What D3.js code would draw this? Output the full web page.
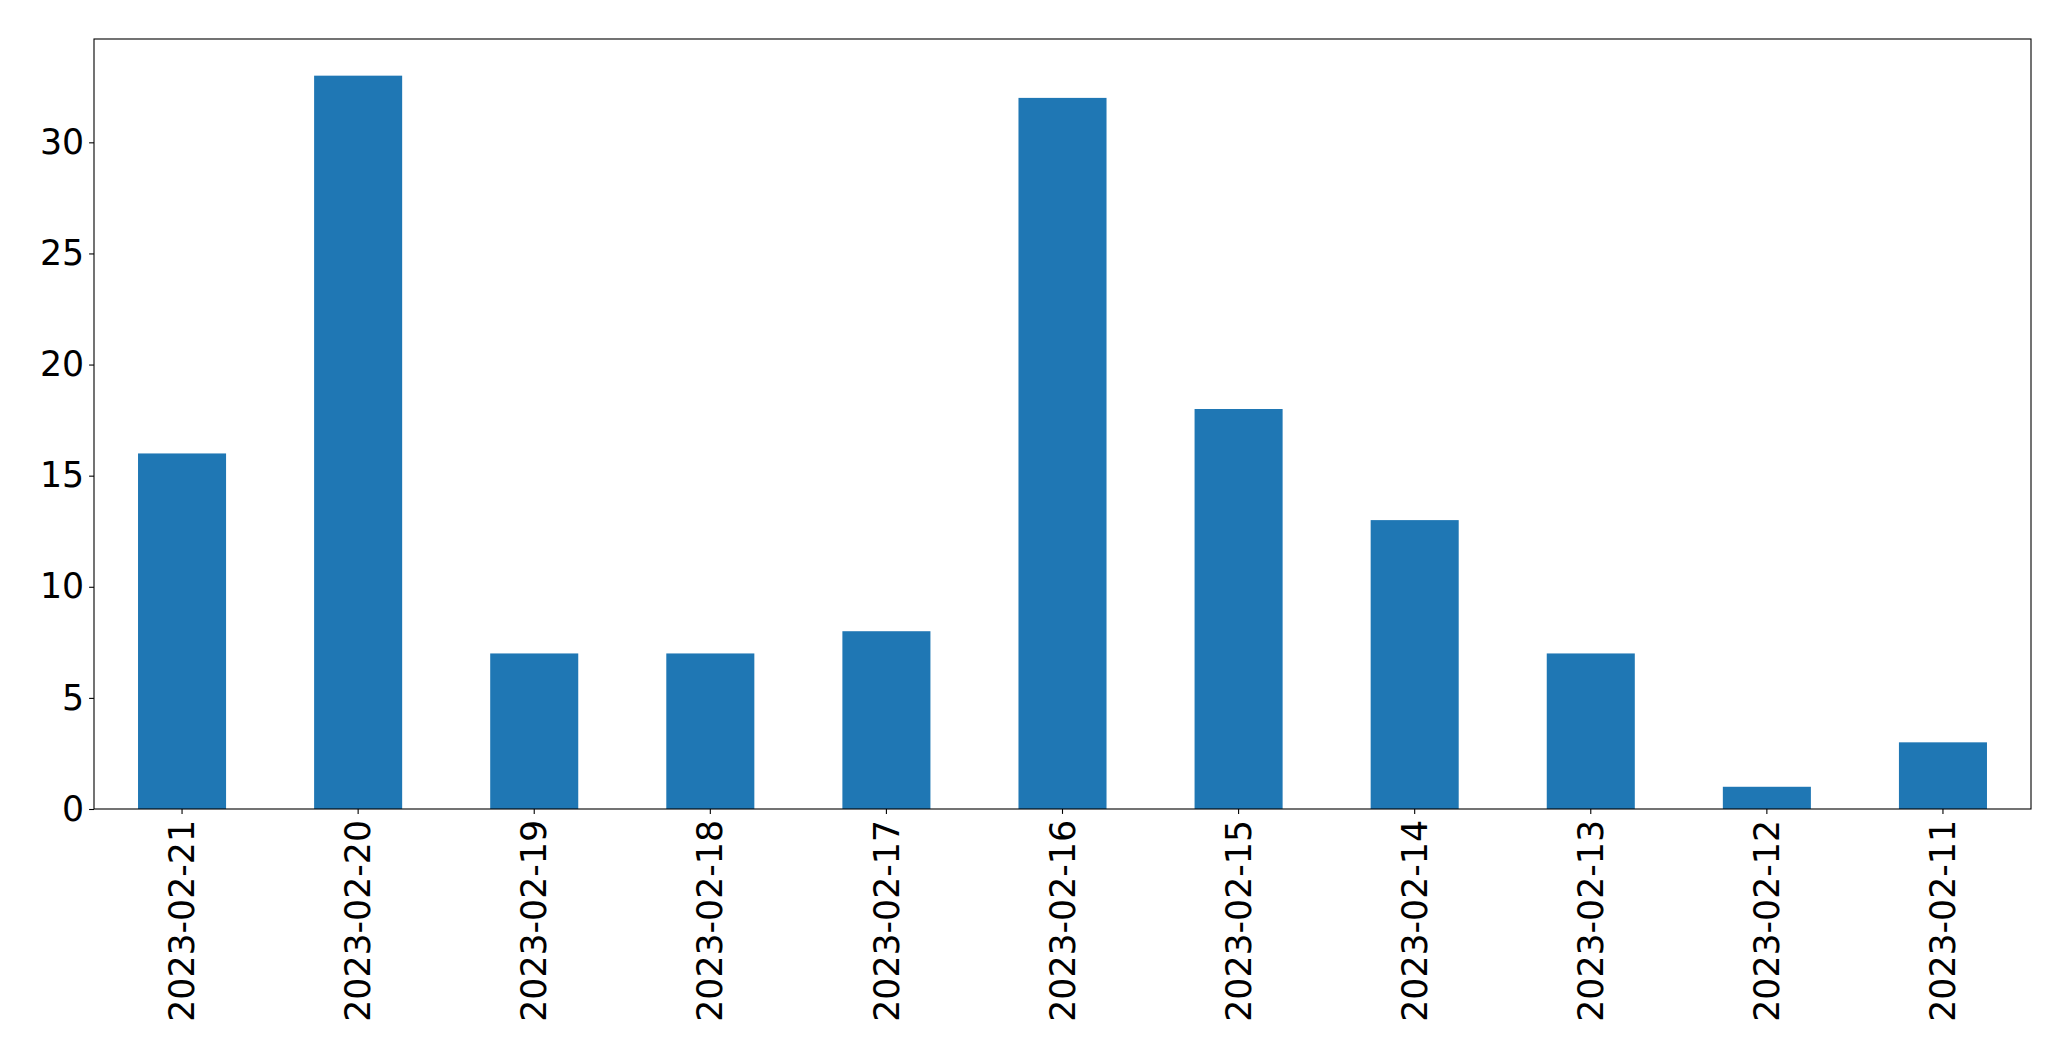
<!DOCTYPE html>
<html>
<head>
<meta charset="utf-8">
<script src="https://cdn.jsdelivr.net/npm/d3@7"></script>
<style>
  html, body { margin: 0; padding: 0; background: #fff; }
  svg { display: block; }
  text { font-family: "DejaVu Sans", sans-serif; fill: #000; }
</style>
</head>
<body>
<svg id="chart" width="2071" height="1061"></svg>
<script>
const categories = ["2023-02-21","2023-02-20","2023-02-19","2023-02-18","2023-02-17","2023-02-16","2023-02-15","2023-02-14","2023-02-13","2023-02-12","2023-02-11"];
const values = [16, 33, 7, 7, 8, 32, 18, 13, 7, 1, 3];
const yTicks = [0, 5, 10, 15, 20, 25, 30];

const W = 2071, H = 1061;
const margin = {left: 94, right: 2071 - 2031, top: 39, bottom: 1061 - 809};
const svg = d3.select("#chart");
const innerW = W - margin.left - margin.right;
const innerH = H - margin.top - margin.bottom;
const g = svg.append("g").attr("transform", `translate(${margin.left},${margin.top})`);

const x = d3.scaleBand().domain(categories).range([0, innerW]).paddingInner(0.5).paddingOuter(0.25);
const y = d3.scaleLinear().domain([0, d3.max(values) * 1.05]).range([innerH, 0]);

g.selectAll("rect.bar").data(values).enter().append("rect")
  .attr("class", "bar")
  .attr("x", (d, i) => x(categories[i]))
  .attr("y", d => y(d))
  .attr("width", x.bandwidth())
  .attr("height", d => innerH - y(d))
  .attr("fill", "#1f77b4");

const fs = 34.72;
const yAxis = g.append("g").call(d3.axisLeft(y).tickValues(yTicks).tickSize(4.9).tickPadding(4.9).tickFormat(d3.format("d")));
yAxis.select(".domain").remove();
yAxis.selectAll("line").attr("stroke", "#000").attr("stroke-width", 1.1);
yAxis.selectAll("text").style("font-size", fs + "px").style("font-family", "DejaVu Sans");

const xAxis = g.append("g").attr("transform", `translate(0,${innerH})`)
  .call(d3.axisBottom(x).tickSize(4.9).tickPadding(4.9));
xAxis.select(".domain").remove();
xAxis.selectAll("line").attr("stroke", "#000").attr("stroke-width", 1.1);
xAxis.selectAll("text")
  .style("font-size", fs + "px").style("font-family", "DejaVu Sans")
  .attr("transform", "rotate(-90)")
  .attr("text-anchor", "end")
  .attr("x", -11)
  .attr("y", 0)
  .attr("dy", "0.35em");

g.append("rect").attr("x", 0).attr("y", 0).attr("width", innerW).attr("height", innerH)
  .attr("fill", "none").attr("stroke", "#000").attr("stroke-width", 1.1);
</script>
</body>
</html>
